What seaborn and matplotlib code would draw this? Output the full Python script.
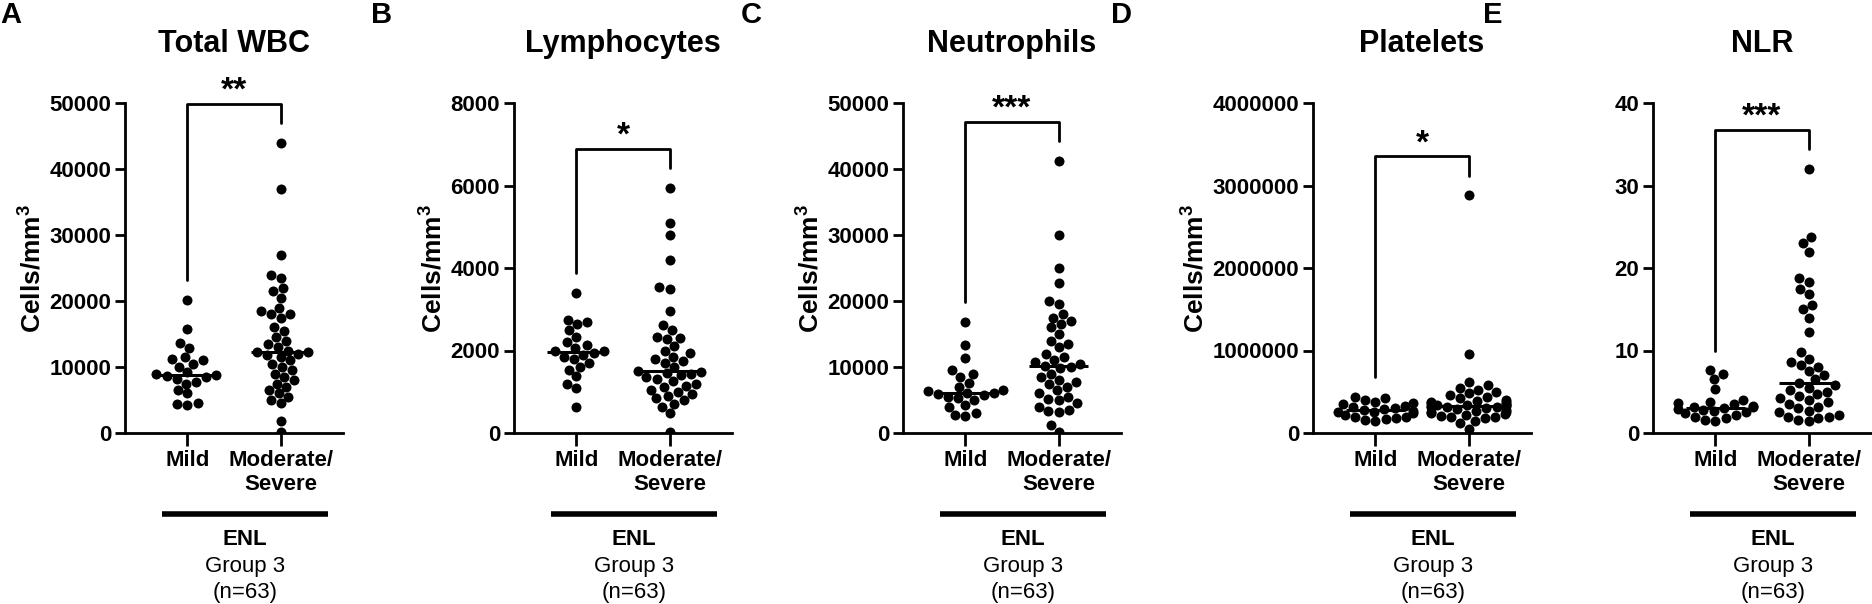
import numpy as np
import pandas as pd
import seaborn as sns
import matplotlib.pyplot as plt
import matplotlib.ticker as mticker

# values (Mild n=22, Moderate/Severe n=41)
wbc_mild = [20200, 15700, 13700, 12900, 11500, 11200, 11000, 10500, 10000, 9200, 8900,
            8800, 8700, 8500, 8200, 7800, 7500, 6500, 6000, 4600, 4400, 4200]
wbc_sev = [44000, 37000, 27000, 24000, 23500, 22000, 21500, 20500, 19000, 18500, 18000,
           18000, 17500, 16000, 15500, 14500, 14000, 13500, 13000, 12500, 12300, 12200,
           12000, 11800, 11500, 11000, 10500, 10000, 9500, 9000, 8500, 8000, 7500, 7000,
           6500, 6000, 5500, 5000, 4500, 1800, 200]

lym_mild = [3400, 2750, 2700, 2650, 2500, 2330, 2200, 2130, 2050, 2000, 2000, 1950,
            1900, 1850, 1800, 1700, 1600, 1530, 1370, 1200, 1100, 640]
lym_sev = [5950, 5100, 4800, 4200, 3550, 3500, 2950, 2620, 2500, 2330, 2300, 2280,
           2100, 2000, 1930, 1850, 1800, 1750, 1700, 1610, 1500, 1480, 1450, 1420,
           1400, 1350, 1300, 1250, 1200, 1150, 1120, 1050, 1000, 950, 900, 850, 800,
           700, 640, 480, 30]

neu_mild = [16800, 13300, 11300, 9500, 9000, 8500, 7600, 7000, 6500, 6300, 6100,
            6000, 5900, 5700, 5500, 5300, 5000, 4200, 3900, 3000, 2700, 2600]
neu_sev = [41200, 30000, 25000, 22800, 20000, 19500, 18000, 17500, 17000, 16500, 16000,
           15000, 14000, 13500, 13000, 12000, 11500, 11000, 10800, 10500, 10200, 10000,
           9800, 9000, 8500, 8000, 7800, 7500, 7000, 6500, 6000, 5500, 5200, 5000, 4500,
           4000, 3500, 3300, 3200, 1200, 100]

plt_mild = [440000, 420000, 400000, 380000, 360000, 350000, 330000, 310000, 300000,
            290000, 280000, 270000, 260000, 250000, 240000, 220000, 200000, 190000,
            180000, 170000, 160000, 140000]
plt_sev = [2880000, 960000, 620000, 580000, 550000, 520000, 500000, 480000, 460000,
           440000, 420000, 400000, 390000, 380000, 370000, 360000, 350000, 345000,
           340000, 335000, 330000, 325000, 320000, 315000, 310000, 300000, 290000,
           280000, 270000, 260000, 250000, 240000, 230000, 220000, 210000, 200000,
           190000, 180000, 150000, 120000, 50000]

nlr_mild = [7.6, 7.2, 6.5, 5.3, 4.0, 3.8, 3.6, 3.5, 3.3, 3.2, 3.1, 3.0, 2.9, 2.8, 2.7,
            2.5, 2.4, 2.2, 2.0, 1.8, 1.6, 1.5]
nlr_sev = [32, 23.8, 23, 22, 18.8, 18.3, 17.5, 16.8, 15.5, 15, 14, 12.3, 9.8, 9, 8.6,
           8.3, 8, 7.5, 7, 6.5, 6.1, 5.8, 5.5, 5.2, 5.0, 4.7, 4.5, 4.2, 4.0, 3.7, 3.5,
           3.2, 3.0, 2.7, 2.5, 2.2, 2.0, 1.9, 1.8, 1.6, 1.4]

titles = ['Total WBC', 'Lymphocytes', 'Neutrophils', 'Platelets', 'NLR']
letters = ['A', 'B', 'C', 'D', 'E']
stars = ['**', '*', '***', '*', '***']
ymaxes = [50000, 8000, 50000, 4000000, 40]
ysteps = [10000, 2000, 10000, 1000000, 10]
ylabels = [r'Cells/mm$^{\mathbf{3}}$'] * 4 + ['']
groups = ['Mild', 'Moderate/\nSevere']
mild_sets = [wbc_mild, lym_mild, neu_mild, plt_mild, nlr_mild]
sev_sets = [wbc_sev, lym_sev, neu_sev, plt_sev, nlr_sev]

sns.set_style('ticks')
plt.rcParams['font.family'] = ['Liberation Sans', 'DejaVu Sans']
plt.rcParams['font.weight'] = 'bold'
plt.rcParams['mathtext.fontset'] = 'custom'
plt.rcParams['mathtext.bf'] = 'Liberation Sans:bold'
plt.rcParams['mathtext.rm'] = 'Liberation Sans:bold'
for k in ['text.color', 'axes.labelcolor', 'xtick.color', 'ytick.color', 'axes.edgecolor']:
    plt.rcParams[k] = 'black'

W, H = 1872, 604
fig = plt.figure(figsize=(W / 100, H / 100), dpi=100)

ax_left = [125, 514, 903, 1313, 1653]
letter_x = [0, 371, 741, 1111, 1483]
ax_w, ax_top, ax_bot = 218, 103, 433

for i in range(5):
    ax = fig.add_axes([ax_left[i] / W, 1 - ax_bot / H, ax_w / W, (ax_bot - ax_top) / H])
    df = pd.DataFrame({
        'group': [groups[0]] * len(mild_sets[i]) + [groups[1]] * len(sev_sets[i]),
        'value': mild_sets[i] + sev_sets[i],
    })
    sns.swarmplot(data=df, x='group', y='value', order=groups, color='black',
                  size=7.2, ax=ax, warn_thresh=1)
    sns.boxplot(data=df, x='group', y='value', order=groups, width=0.64,
                showbox=False, showcaps=False, showfliers=False, whis=0,
                whiskerprops={'visible': False},
                medianprops={'color': 'black', 'linewidth': 2.2}, ax=ax)

    ymax = ymaxes[i]
    ax.set_ylim(0, ymax)
    ax.set_xlim(-0.67, 1.67)
    ax.yaxis.set_major_locator(mticker.MultipleLocator(ysteps[i]))
    ax.yaxis.set_major_formatter(mticker.FuncFormatter(lambda v, p: f'{v:.0f}'))
    ax.set_xlabel('')
    ax.set_ylabel(ylabels[i], fontsize=19, fontweight='bold', labelpad=3)
    sns.despine(ax=ax)
    for sp in ['left', 'bottom']:
        ax.spines[sp].set_linewidth(2)
    ax.tick_params(width=2, length=7, labelsize=16, pad=3)
    ax.tick_params(axis='x', length=9)

    # significance bracket
    m1, m2 = max(mild_sets[i]), max(sev_sets[i])
    top = m2 + 0.118 * ymax
    ax.plot([0, 0, 1, 1], [m1 + 0.06 * ymax, top, top, m2 + 0.06 * ymax],
            color='black', lw=2, clip_on=False)
    ax.text(0.5, top - 0.008 * ymax, stars[i], ha='center', va='bottom',
            fontsize=24, clip_on=False)

    ax.text(0.5, 1 + 59 / 330, titles[i], transform=ax.transAxes, ha='center',
            va='center', fontsize=22, fontweight='bold')

    tr = ax.get_xaxis_transform()
    ax.plot([-0.27, 1.51], [-0.245, -0.245], transform=tr, color='black', lw=4,
            clip_on=False, solid_capstyle='butt')
    ax.text(0.62, -0.324, 'ENL', transform=tr, ha='center', va='center', fontsize=16)
    ax.text(0.62, -0.406, 'Group 3', transform=tr, ha='center', va='center',
            fontsize=16, fontweight='normal')
    ax.text(0.62, -0.482, '(n=63)', transform=tr, ha='center', va='center',
            fontsize=16, fontweight='normal')

    fig.text(letter_x[i] / W, 1 - 15 / H, letters[i], fontsize=21, fontweight='bold',
             va='center', ha='left')

fig.savefig('out.png', dpi=100)
